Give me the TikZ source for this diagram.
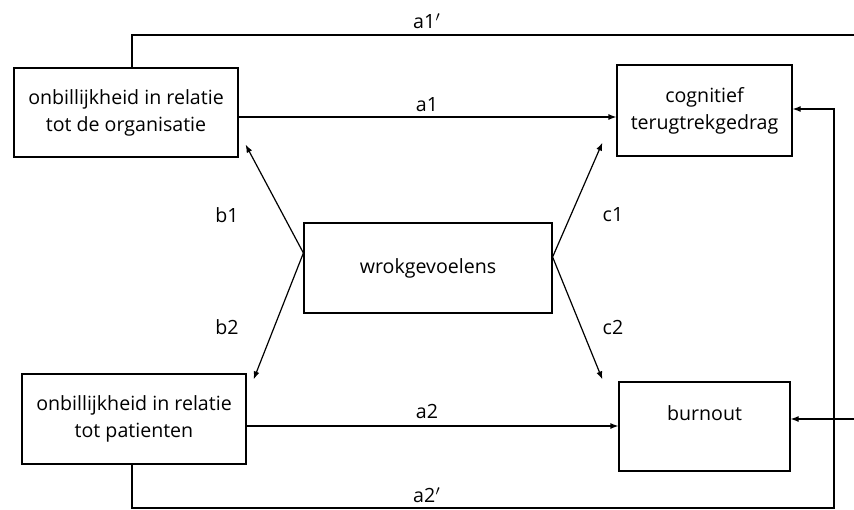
\documentclass[tikz,border=0pt]{standalone}
\usepackage{fontspec}
\setmainfont{Open Sans}
\usetikzlibrary{arrows.meta}

\tikzset{
  box/.style={draw, line width=0.6pt, align=center, inner sep=0pt,
    font=\fontsize{9.8}{13.5}\selectfont},
  link/.style={line width=0.6pt, -{Latex[length=4pt,width=3pt]}},
  plainlink/.style={line width=0.6pt},
  lbl/.style={font=\fontsize{9.8}{13.5}\selectfont}
}

\begin{document}
\begin{tikzpicture}[x=0.5pt, y=-0.5pt]
  % keep the page as large as the reference
  \useasboundingbox (0,0) rectangle (854,509);

  % the five boxes
  \node[box, minimum width=112pt, minimum height=44.5pt] (org) at (126,112.5)
    {onbillijkheid in relatie\\tot de organisatie};
  \node[box, minimum width=87.5pt, minimum height=45.5pt] (cog) at (704.5,110.5)
    {cognitief\\terugtrekgedrag};
  \node[box, minimum width=124pt, minimum height=45pt] (wrok) at (428,268)
    {wrokgevoelens};
  \node[box, minimum width=112pt, minimum height=45pt] (pat) at (134,419)
    {onbillijkheid in relatie\\tot patienten};
  \node[box, minimum width=85.5pt, minimum height=44.5pt] (burn) at (704.5,426.5)
    {burnout\\~};

  % direct paths
  \draw[link] (org.east) ++(0,4.5) coordinate (a1s) -- (a1s -| cog.west);
  \draw[link] (pat.east) ++(0,7) coordinate (a2s) -- (a2s -| burn.west);

  % paths through wrokgevoelens
  \coordinate (wl) at ([yshift=7.5pt]wrok.west);
  \coordinate (wr) at ([yshift=5.5pt]wrok.east);
  \draw[link] (wl) -- ([xshift=3.5pt,yshift=6.5pt]org.south east);
  \draw[link] (wl) -- ([xshift=3.5pt,yshift=-3pt]pat.north east);
  \draw[link] (wr) -- ([xshift=-7pt,yshift=7pt]cog.south west);
  \draw[link] (wr) -- ([xshift=-8pt,yshift=1pt]burn.north west);

  % long paths round the outside
  \coordinate (topbend) at (132,35);
  \coordinate (topedge) at (854,35);
  \draw[plainlink] (org.north -| topbend) -- (topbend) -- (topedge);
  \coordinate (sideedge) at (854,419);
  \draw[link] (sideedge) -- (sideedge -| burn.east);

  \coordinate (botbend) at (132,508);
  \coordinate (cogin) at (834,109);
  \draw[link] (pat.south -| botbend) -- (botbend) -| (cogin) -- (cogin -| cog.east);

  % labels
  \node[lbl] (la1p) at (427,21) {a1$'$};
  \node[lbl] (la1) at (427,105) {a1};
  \node[lbl] (la2) at (427,411) {a2};
  \node[lbl] (la2p) at (427,495) {a2$'$};
  \node[lbl] (lb1) at (227,215) {b1};
  \node[lbl] (lb2) at (227,327) {b2};
  \node[lbl] (lc1) at (613,215) {c1};
  \node[lbl] (lc2) at (613,327) {c2};
\end{tikzpicture}
\end{document}
